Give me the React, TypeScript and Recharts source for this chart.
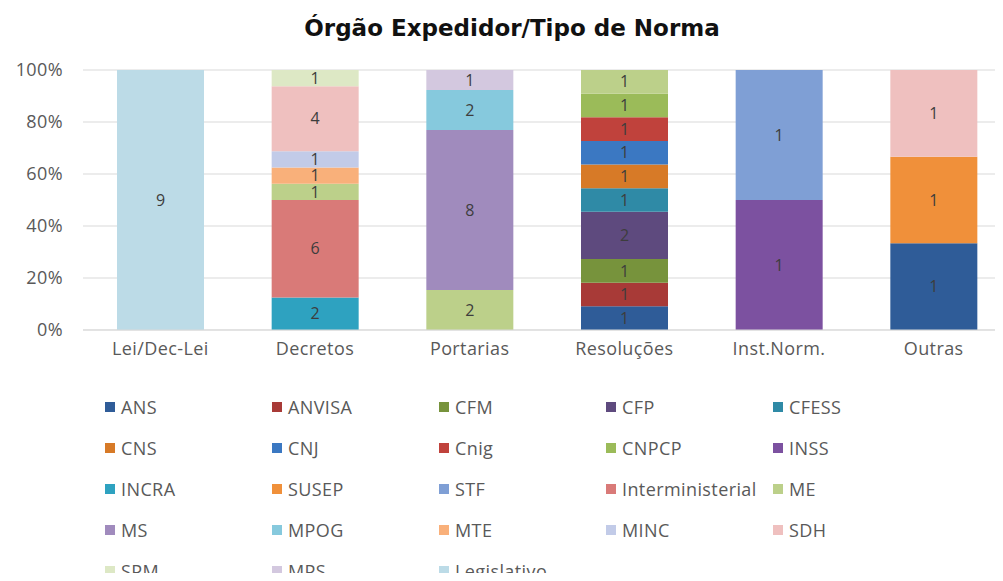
import { BarChart, Bar, XAxis, YAxis, CartesianGrid, Legend, LabelList } from 'recharts'

const categories = ['Lei/Dec-Lei', 'Decretos', 'Portarias', 'Resoluções', 'Inst.Norm.', 'Outras']

// counts per category, in the order of `categories`
const ANS = [0, 0, 0, 1, 0, 1]
const ANVISA = [0, 0, 0, 1, 0, 0]
const CFM = [0, 0, 0, 1, 0, 0]
const CFP = [0, 0, 0, 2, 0, 0]
const CFESS = [0, 0, 0, 1, 0, 0]
const CNS = [0, 0, 0, 1, 0, 0]
const CNJ = [0, 0, 0, 1, 0, 0]
const Cnig = [0, 0, 0, 1, 0, 0]
const CNPCP = [0, 0, 0, 1, 0, 0]
const INSS = [0, 0, 0, 0, 1, 0]
const INCRA = [0, 2, 0, 0, 0, 0]
const SUSEP = [0, 0, 0, 0, 0, 1]
const STF = [0, 0, 0, 0, 1, 0]
const Interministerial = [0, 6, 0, 0, 0, 0]
const ME = [0, 1, 2, 1, 0, 0]
const MS = [0, 0, 8, 0, 0, 0]
const MPOG = [0, 0, 2, 0, 0, 0]
const MTE = [0, 1, 0, 0, 0, 0]
const MINC = [0, 1, 0, 0, 0, 0]
const SDH = [0, 4, 0, 0, 0, 1]
const SPM = [0, 1, 0, 0, 0, 0]
const MPS = [0, 0, 1, 0, 0, 0]
const Legislativo = [9, 0, 0, 0, 0, 0]

const seriesNames = ['ANS', 'ANVISA', 'CFM', 'CFP', 'CFESS', 'CNS', 'CNJ', 'Cnig', 'CNPCP', 'INSS', 'INCRA', 'SUSEP', 'STF', 'Interministerial', 'ME', 'MS', 'MPOG', 'MTE', 'MINC', 'SDH', 'SPM', 'MPS', 'Legislativo']
const seriesValues = [ANS, ANVISA, CFM, CFP, CFESS, CNS, CNJ, Cnig, CNPCP, INSS, INCRA, SUSEP, STF, Interministerial, ME, MS, MPOG, MTE, MINC, SDH, SPM, MPS, Legislativo]
const seriesColors = ['#2f5c98', '#a83a37', '#77933c', '#5e4a7e', '#2f8aa6', '#d77a27', '#3b78c2', '#c0423c', '#9bbb59', '#7c51a0', '#2ea2c0', '#f0903a', '#7f9fd5', '#d97a78', '#bcd08a', '#a08bbd', '#86c9dd', '#f9b07a', '#c2cbe8', '#efc0bf', '#dde8c5', '#d3c8df', '#bcdbe7']

const yTicks = [0, 0.2, 0.4, 0.6, 0.8, 1]

const data = categories.map((name, i) => {
  const row: any = { name }
  seriesNames.forEach((s, j) => {
    row[s] = seriesValues[j][i] || undefined
  })
  return row
})

const FONT = '"Open Sans", sans-serif'
const textStyle = { fontSize: 18, fill: '#595959', fontFamily: FONT, letterSpacing: 0.4 }

const LegendGrid = () => (
  <div style={{ display: 'grid', gridTemplateColumns: 'repeat(5, 167px)', gridAutoRows: 41, fontFamily: FONT, fontSize: 18, lineHeight: '22px', letterSpacing: 0.4, color: '#595959' }}>
    {seriesNames.map((s, i) => (
      <div key={s} style={{ display: 'flex', alignItems: 'center', whiteSpace: 'nowrap' }}>
        <span style={{ display: 'inline-block', width: 10, height: 10, background: seriesColors[i], marginRight: 6 }} />
        {s}
      </div>
    ))}
  </div>
)

export default function App() {
  return (
    <div style={{ margin: -8, width: 1003, height: 581, overflow: 'hidden', position: 'relative', background: '#fff' }}>
      <div style={{ position: 'absolute', top: 15, left: 0, width: 1024, textAlign: 'center', fontFamily: '"DejaVu Sans", sans-serif', fontWeight: 700, fontSize: 23, color: '#111' }}>
        Órgão Expedidor/Tipo de Norma
      </div>
      <BarChart
        width={1040}
        height={600}
        data={data}
        stackOffset="expand"
        barSize={87}
        margin={{ top: 70, right: 29, left: 0, bottom: 240 }}
      >
        <CartesianGrid vertical={false} stroke="#d9d9d9" />
        <XAxis
          dataKey="name"
          axisLine={{ stroke: '#d9d9d9' }}
          tickLine={false}
          height={30}
          tickMargin={6}
          tick={textStyle}
        />
        <YAxis
          width={83}
          ticks={yTicks}
          domain={[0, 1]}
          axisLine={false}
          tickLine={false}
          tickMargin={14}
          tickFormatter={(v: number) => `${Math.round(v * 100)}%`}
          tick={textStyle}
        />
        <Legend
          layout="horizontal"
          verticalAlign="middle"
          align="center"
          content={<LegendGrid />}
          wrapperStyle={{ position: 'absolute', top: 386, left: 105, width: 900 }}
        />
        {seriesNames.map((s, i) => (
          <Bar key={s} dataKey={s} stackId="a" fill={seriesColors[i]} isAnimationActive={false}>
            <LabelList
              dataKey={s}
              position="center"
              formatter={(v: any) => (v ? v : '')}
              style={{ fontSize: 16, fill: '#3d3d3d', fontFamily: FONT }}
            />
          </Bar>
        ))}
      </BarChart>
    </div>
  )
}
